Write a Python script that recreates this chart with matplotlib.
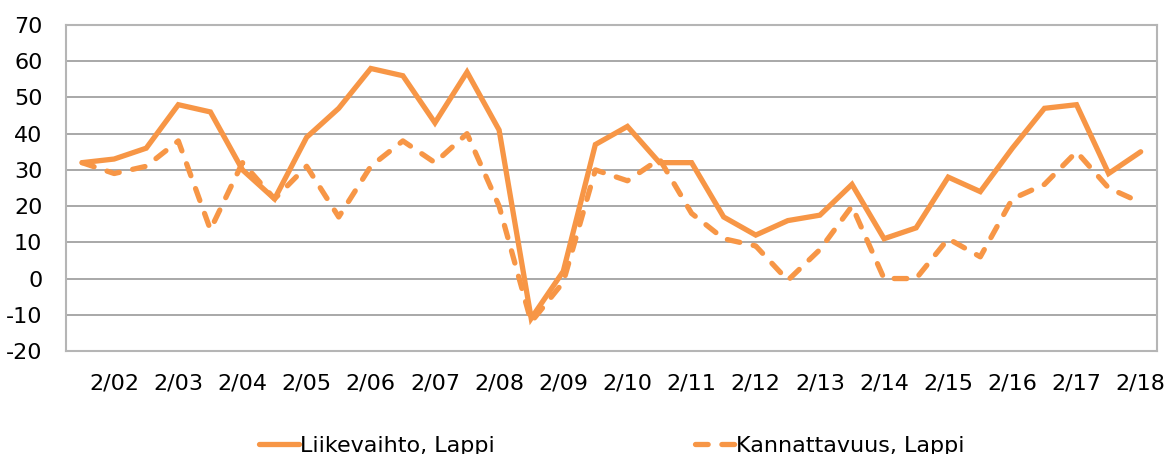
import matplotlib
matplotlib.use("Agg")
import matplotlib.pyplot as plt

plt.rcParams.update({'font.size': 16, 'font.family': 'DejaVu Sans',
                     'axes.unicode_minus': False})

# Semi-annual survey rounds, 9/01 ... 2/18 (only the February rounds get a label)
periods = []
for yr in range(1, 19):
    if yr > 1:
        periods.append("2/%02d" % yr)
    periods.append("9/%02d" % yr)
periods = periods[:34]
tick_labels = [p if p.startswith("2/") else "" for p in periods]

liikevaihto = [32, 33, 36, 48, 46, 30, 22, 39, 47, 58, 56, 43, 57, 41, -11, 2, 37,
               42, 32, 32, 17, 12, 16, 17.5, 26, 11, 14, 28, 24, 36, 47, 48, 29, 35]
kannattavuus = [32, 29, 31, 38, 13.5, 32, 22, 31, 17, 31, 38, 32, 40, 20, -12, -1, 30,
                27, 33, 18, 11, 9, -0.5, 8, 20, 0, 0, 11, 6, 22, 26, 35, 25, 21]

orange = '#F79646'

fig = plt.figure(figsize=(11.69, 4.54), dpi=100)
ax = fig.add_axes([0.0565, 0.2269, 0.9330, 0.7180])

x = range(len(periods))
ax.plot(x, liikevaihto, color=orange, lw=3.8, solid_joinstyle='miter',
        solid_capstyle='round', label='Liikevaihto, Lappi')
ax.plot(x, kannattavuus, color=orange, lw=3.8, dashes=(2.4, 2.6),
        dash_capstyle='round', dash_joinstyle='round', label='Kannattavuus, Lappi')

ax.set_xlim(-0.5, len(periods) - 0.5)
ax.set_ylim(-20, 70)
ax.set_yticks(range(-20, 71, 10))
ax.set_xticks(list(x))
ax.set_xticklabels(tick_labels)

ax.grid(axis='y', color='#9a9a9a', lw=1.2)
ax.set_axisbelow(True)
for s in ax.spines.values():
    s.set_color('#b5b5b5')
    s.set_linewidth(1.5)
ax.tick_params(axis='both', length=0, labelsize=16)
ax.tick_params(axis='y', pad=17)
ax.tick_params(axis='x', pad=16)

fig.legend(loc='center', bbox_to_anchor=(0.523, 1 - 446 / 454), ncol=2, frameon=False,
           handlelength=1.8, handletextpad=0.05, columnspacing=9.0, borderpad=0,
           fontsize=16)

fig.savefig('out.png', dpi=100)
